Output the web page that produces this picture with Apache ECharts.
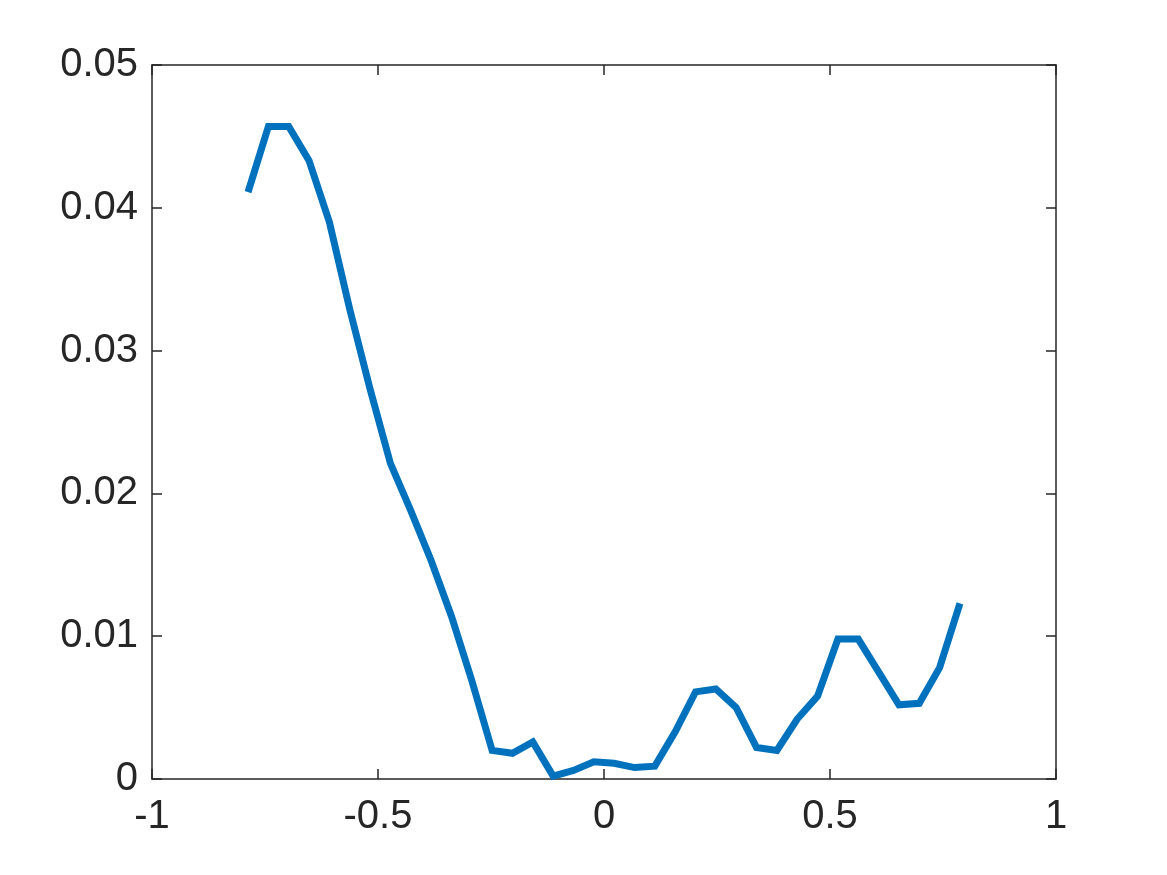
<!DOCTYPE html>
<html>
<head>
<meta charset="utf-8">
<script src="https://cdn.jsdelivr.net/npm/echarts@6/dist/echarts.min.js"></script>
<style>
  html, body { margin: 0; padding: 0; background: #fff; }
  #chart { width: 1167px; height: 875px; }
</style>
</head>
<body>
<div id="chart"></div>
<script>
// sample positions along x
var xValues = [-0.7875, -0.7425, -0.6975, -0.6525, -0.6075, -0.5625, -0.5175, -0.4725, -0.4275,
  -0.3825, -0.3375, -0.2925, -0.2475, -0.2025, -0.1575, -0.1125, -0.0675, -0.0225,
  0.0225, 0.0675, 0.1125, 0.1575, 0.2025, 0.2475, 0.2925, 0.3375, 0.3825, 0.4275,
  0.4725, 0.5175, 0.5625, 0.6075, 0.6525, 0.6975, 0.7425, 0.7875]
var yValues = [0.0411, 0.0457, 0.0457, 0.0433, 0.0390, 0.0329, 0.0273, 0.0221, 0.0188,
  0.0153, 0.0114, 0.0069, 0.0020, 0.0018, 0.0026, 0.0002, 0.0006, 0.0012,
  0.0011, 0.0008, 0.0009, 0.0033, 0.0061, 0.0063, 0.0050, 0.0022, 0.0020, 0.0042,
  0.0058, 0.0098, 0.0098, 0.0075, 0.0052, 0.0053, 0.0078, 0.0123]
var xTickLabels = { '-1': '-1', '-0.5': '-0.5', '0': '0', '0.5': '0.5', '1': '1' }
var yTickLabels = { '0': '0', '0.01': '0.01', '0.02': '0.02', '0.03': '0.03', '0.04': '0.04', '0.05': '0.05' }

var textColor = '#262626'
var labelFont = { fontFamily: 'Liberation Sans', fontSize: 40, color: textColor }

function boxAxis (extra) {
  return Object.assign({
    type: 'value',
    axisLine: { show: true, onZero: false, lineStyle: { color: textColor, width: 1.5 } },
    axisTick: { show: true, inside: true, length: 10, lineStyle: { color: textColor, width: 1.5 } },
    splitLine: { show: false }
  }, extra)
}

var chart = echarts.init(document.getElementById('chart'))
chart.setOption({
  animation: false,
  backgroundColor: '#fff',
  grid: { left: 152, right: 111, top: 65, bottom: 96, containLabel: false },
  xAxis: [
    boxAxis({
      min: -1, max: 1, interval: 0.5, position: 'bottom',
      axisLabel: Object.assign({ margin: 18, formatter: function (v) { return xTickLabels[String(v)] } }, labelFont)
    }),
    boxAxis({ min: -1, max: 1, interval: 0.5, position: 'top', axisLabel: { show: false } })
  ],
  yAxis: [
    boxAxis({
      min: 0, max: 0.05, interval: 0.01, position: 'left',
      axisLabel: Object.assign({ margin: 14, formatter: function (v) { return yTickLabels[String(+v.toFixed(2))] } }, labelFont)
    }),
    boxAxis({ min: 0, max: 0.05, interval: 0.01, position: 'right', axisLabel: { show: false } })
  ],
  series: [{
    type: 'line',
    data: xValues.map(function (x, i) { return [x, yValues[i]] }),
    showSymbol: false,
    lineStyle: { color: '#0072BD', width: 7, cap: 'butt', join: 'miter' },
    z: 3
  }]
})
</script>
</body>
</html>
